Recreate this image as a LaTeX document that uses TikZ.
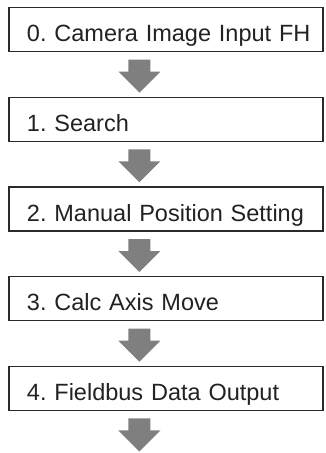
\documentclass[tikz,border=0pt]{standalone}
\usepackage{fontspec}
\setmainfont{Liberation Sans}
\usetikzlibrary{calc}
\definecolor{boxline}{HTML}{2A2A2A}
\definecolor{txt}{HTML}{222222}
\definecolor{arrowgray}{HTML}{7F7F7F}
\tikzset{
  stepbox/.style={draw=boxline, line width=1.2pt, fill=white,
    minimum width=314pt, minimum height=44pt, inner xsep=9pt, inner ysep=0pt,
    text width=296pt, align=left, text height=34.3pt, text depth=9.7pt,
    text=txt, font=\fontsize{23.5}{28}\selectfont,
    execute at begin node={\frenchspacing\hspace*{9pt}\hbox\bgroup},
    execute at end node={\egroup}},
  blockarrow/.style={fill=arrowgray, draw=none}
}
\newcommand\blockdown[1]{\fill[blockarrow] (#1) ++(-11,0) -- ++(22,0) -- ++(0,12) -- ++(10,0) -- ++(-21,21) -- ++(-21,-21) -- ++(10,0) -- cycle;}
\begin{document}
\begin{tikzpicture}[x=1pt,y=-1pt]
\useasboundingbox (0,0) rectangle (325,453);
\node[stepbox] (b0) at (166,29.5) {0. Camera Image Input FH};
\node[stepbox] (b1) at (166,119.2) {1. Search};
\node[stepbox] (b2) at (166,208.9) {2. Manual Position Setting};
\node[stepbox] (b3) at (166,298.6) {3. Calc Axis Move};
\node[stepbox] (b4) at (166,388.3) {4. Fieldbus Data Output};
\foreach \b in {0,1,2,3,4}{
  \coordinate (t\b) at ($(b\b.south west)+(131,7.5)$);
}
\blockdown{t0}
\blockdown{t1}
\blockdown{t2}
\blockdown{t3}
\blockdown{t4}
\end{tikzpicture}
\end{document}
